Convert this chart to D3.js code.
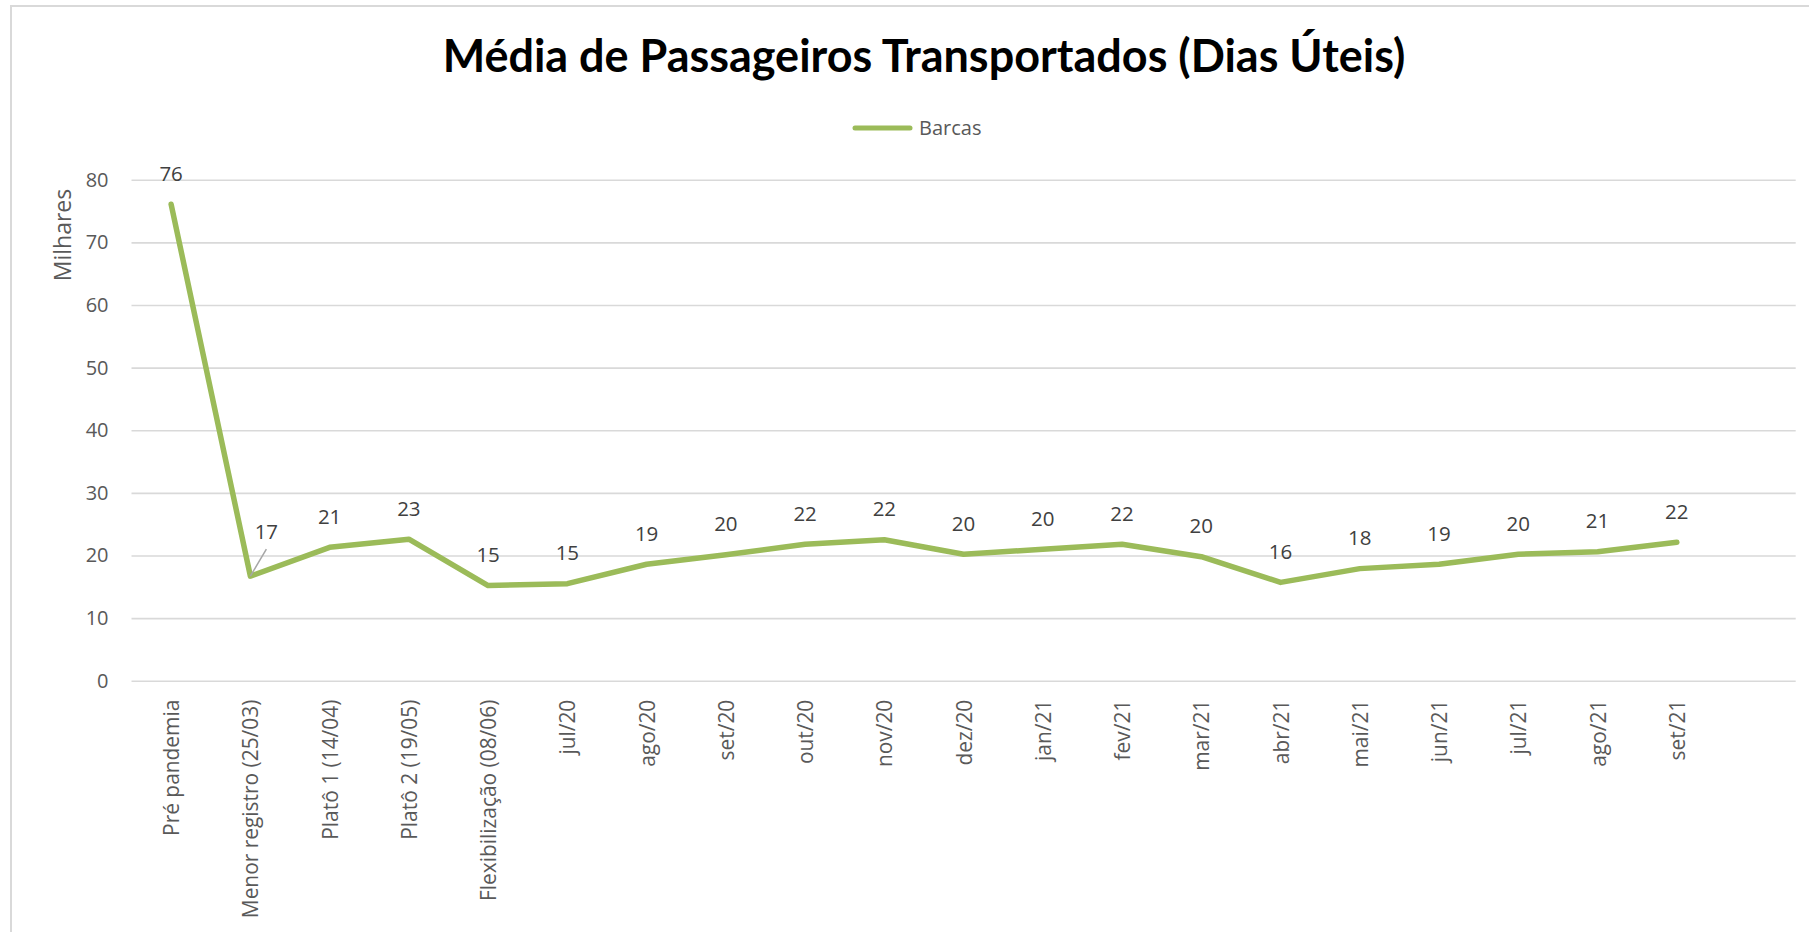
<!DOCTYPE html>
<html>
<head>
<meta charset="utf-8">
<script src="https://cdn.jsdelivr.net/npm/d3@7"></script>
<style>
  body { margin: 0; background: #fff; }
  svg { display: block; }
</style>
</head>
<body>
<svg id="chart" width="1809" height="932"></svg>
<script>
// dados
const categories = ['Pré pandemia', 'Menor registro (25/03)', 'Platô 1 (14/04)', 'Platô 2 (19/05)',
  'Flexibilização (08/06)', 'jul/20', 'ago/20', 'set/20', 'out/20', 'nov/20', 'dez/20',
  'jan/21', 'fev/21', 'mar/21', 'abr/21', 'mai/21', 'jun/21', 'jul/21', 'ago/21', 'set/21'];
const barcas = [76.1, 16.7, 21.3, 22.6, 15.2, 15.5, 18.6, 20.1, 21.8, 22.5, 20.2,
  21.0, 21.8, 19.8, 15.7, 17.9, 18.6, 20.2, 20.6, 22.1];
const barcasLabels = ['76', '17', '21', '23', '15', '15', '19', '20', '22', '22', '20',
  '20', '22', '20', '16', '18', '19', '20', '21', '22'];
const yTicks = [0, 10, 20, 30, 40, 50, 60, 70, 80];

const svg = d3.select('#chart');
const green = '#9bbb59';
const grey = '#595959';

// moldura
svg.append('rect')
    .attr('x', 11).attr('y', 6)
    .attr('width', 1809).attr('height', 932)
    .attr('fill', '#fff')
    .attr('stroke', '#d9d9d9')
    .attr('stroke-width', 2);

const plotLeft = 131.5, plotRight = 1795.7, plotTop = 179.8, plotBottom = 680.7;

// uma posição vazia no fim, como no original
const x = d3.scaleBand().domain(d3.range(categories.length + 1)).range([plotLeft, plotRight]);
const y = d3.scaleLinear().domain([0, 80]).range([plotBottom, plotTop]);
const cx = i => x(i) + x.bandwidth() / 2;

// título
const title = svg.append('text')
    .attr('x', 924).attr('y', 72)
    .attr('text-anchor', 'middle')
    .attr('font-family', 'Lato, sans-serif')
    .attr('font-weight', 'bold')
    .attr('font-size', 100)
    .attr('fill', '#000')
    .text('Média de Passageiros Transportados (Dias Úteis)');
const tw = title.node().getComputedTextLength();
title.attr('font-size', 100 * 963 / tw);

// legenda
svg.append('line')
    .attr('x1', 855).attr('x2', 910).attr('y1', 128).attr('y2', 128)
    .attr('stroke', green).attr('stroke-width', 5).attr('stroke-linecap', 'round');
svg.append('text')
    .attr('x', 919).attr('y', 128).attr('dy', '0.35em')
    .attr('font-family', 'Open Sans, sans-serif').attr('font-size', 20)
    .attr('fill', grey)
    .text('Barcas');

// eixo y com grade
const gy = svg.append('g')
    .attr('transform', `translate(${plotLeft},0)`)
    .call(d3.axisLeft(y).tickValues(yTicks).tickSize(-(plotRight - plotLeft)).tickPadding(23));
gy.select('.domain').remove();
gy.selectAll('.tick line').attr('stroke', '#d9d9d9').attr('stroke-width', 1.6);
gy.selectAll('.tick text')
    .attr('font-family', 'Open Sans, sans-serif').attr('font-size', 20).attr('fill', grey);

svg.append('text')
    .attr('transform', 'translate(70.5,235) rotate(-90)')
    .attr('text-anchor', 'middle')
    .attr('font-family', 'Open Sans, sans-serif').attr('font-size', 23)
    .attr('fill', grey)
    .text('Milhares');

// eixo x
const gx = svg.append('g')
    .attr('transform', `translate(0,${plotBottom})`)
    .call(d3.axisBottom(x).tickSize(0).tickFormat(i => categories[i] || ''));
gx.select('.domain').remove();
gx.selectAll('.tick text')
    .attr('transform', 'rotate(-90)')
    .attr('x', -19).attr('y', 0).attr('dy', '0.38em')
    .attr('text-anchor', 'end')
    .attr('font-family', 'Open Sans, sans-serif').attr('font-size', 20.9)
    .attr('fill', grey);

// linha
const line = d3.line().x((d, i) => cx(i)).y(d => y(d));
svg.append('path')
    .datum(barcas)
    .attr('d', line)
    .attr('fill', 'none')
    .attr('stroke', green)
    .attr('stroke-width', 5.5)
    .attr('stroke-linejoin', 'round')
    .attr('stroke-linecap', 'round');

// rótulos de dados
barcas.forEach((v, i) => {
    let lx = cx(i), ly = y(v) - 31;
    if (i === 1) {
        // rótulo deslocado com linha guia
        lx = cx(i) + 16;
        ly = y(v) - 45;
        svg.append('line')
            .attr('x1', cx(i)).attr('y1', y(v))
            .attr('x2', cx(i) + 16).attr('y2', y(v) - 27)
            .attr('stroke', '#a6a6a6').attr('stroke-width', 1.5);
    }
    svg.append('text')
        .attr('x', lx).attr('y', ly).attr('dy', '0.36em')
        .attr('text-anchor', 'middle')
        .attr('font-family', 'Open Sans, sans-serif').attr('font-size', 20.5)
        .attr('fill', '#404040')
        .text(barcasLabels[i]);
});
</script>
</body>
</html>
